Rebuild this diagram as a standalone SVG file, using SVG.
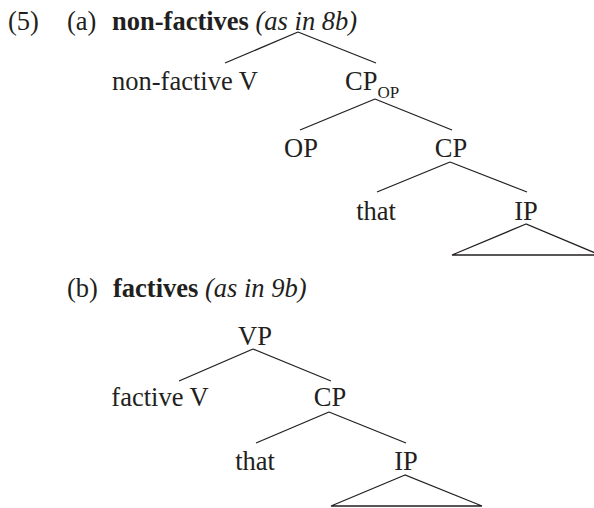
<svg xmlns="http://www.w3.org/2000/svg" width="594" height="508" viewBox="0 0 594 508">
<style>
text{font-family:"Liberation Serif","Times New Roman",serif;font-size:26.5px;fill:#231f20}
.m{text-anchor:middle}
.b{font-weight:bold}
.i{font-style:italic}
.sub{font-size:17px}
#connectors line,#connectors polygon{stroke:#231f20;stroke-width:1.3;fill:none}
</style>
<rect width="594" height="508" fill="#fff"/>
<g id="labels">
<text x="8" y="30">(5)</text>
<text x="67" y="30">(a)</text>
<text x="112" y="30"><tspan class="b">non-factives</tspan> <tspan class="i">(as in 8b)</tspan></text>
<text x="67" y="297">(b)</text>
<text x="113" y="297"><tspan class="b">factives</tspan> <tspan class="i">(as in 9b)</tspan></text>
</g>
<g id="a-nonfactiveV"><text class="m" x="185" y="90">non-factive V</text></g>
<g id="a-CPop"><text x="345" y="90">CP<tspan class="sub" dy="8">OP</tspan></text></g>
<g id="a-OP"><text class="m" x="301" y="157">OP</text></g>
<g id="a-CP"><text class="m" x="451" y="157">CP</text></g>
<g id="a-that"><text class="m" x="376" y="220">that</text></g>
<g id="a-IP"><text class="m" x="526" y="220">IP</text></g>
<g id="b-VP"><text class="m" x="255" y="345">VP</text></g>
<g id="b-factiveV"><text class="m" x="160" y="406">factive V</text></g>
<g id="b-CP"><text class="m" x="330" y="406">CP</text></g>
<g id="b-that"><text class="m" x="255" y="470">that</text></g>
<g id="b-IP"><text class="m" x="406" y="470">IP</text></g>
<g id="connectors">
<line x1="298" y1="32" x2="225" y2="63"/>
<line x1="298" y1="32" x2="376" y2="63"/>
<line x1="375" y1="99" x2="300" y2="130"/>
<line x1="375" y1="99" x2="452" y2="130"/>
<line x1="450" y1="162" x2="377" y2="192"/>
<line x1="450" y1="162" x2="527" y2="192"/>
<polygon points="526,224 452,255 600,255"/>
<line x1="253" y1="349" x2="179" y2="381"/>
<line x1="253" y1="349" x2="331" y2="381"/>
<line x1="329" y1="412" x2="256" y2="443"/>
<line x1="329" y1="412" x2="406" y2="443"/>
<polygon points="405,475 331,506 482,506"/>
</g>
</svg>
